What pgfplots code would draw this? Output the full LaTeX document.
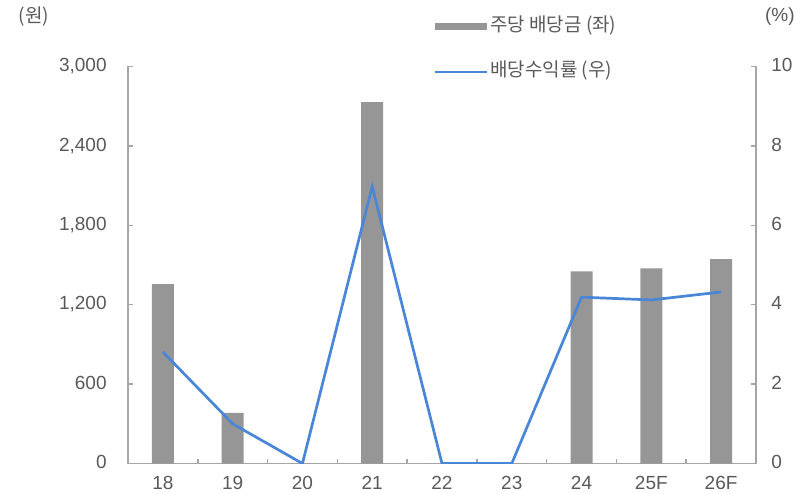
\documentclass[border=0pt]{standalone}
\usepackage{fontspec}
\setmainfont{Liberation Sans}
\newfontfamily\kr{Noto Sans CJK KR}
\usepackage{pgfplots}
\pgfplotsset{compat=1.18}

\definecolor{bargray}{RGB}{150,150,150}
\definecolor{lineblue}{RGB}{74,134,216}
\definecolor{axgray}{RGB}{166,166,166}
\definecolor{txtgray}{RGB}{89,89,89}

\pgfplotsset{
  base/.style={
    scale only axis, width=314pt, height=198.5pt,
    at={(64pt,14.75pt)}, anchor=south west,
    xmin=-0.5, xmax=8.5,
    axis line style={axgray, line width=0.75pt},
    tick style={axgray, line width=0.75pt},
    major tick length=2.25pt, minor tick length=2.25pt,
    tick align=inside,
    font=\fontsize{9.5}{11}\selectfont,
    /pgf/number format/assume math mode=true,
    every tick label/.append style={txtgray},
  }
}

\begin{document}
\begin{tikzpicture}
\path[use as bounding box] (0,0) rectangle (404pt,246.5pt);

% left axis: dividend per share (bars)
\begin{axis}[base,
  axis y line*=left, axis x line*=bottom,
  ymin=0, ymax=3000, ytick={0,600,...,3000},
  xtick={0,...,8}, xticklabels={18,19,20,21,22,23,24,25F,26F},
  minor xtick={0.5,1.5,...,7.5},
  major x tick style={draw=none},
  yticklabel style={/pgf/number format/1000 sep={,}, anchor=mid east, inner sep=0pt, xshift=-10.5pt},
  xticklabel style={anchor=center, inner sep=0pt, yshift=-9.75pt},
  ylabel={\kr (원)},
  ylabel style={rotate=-90, at={(axis description cs:-0.150,1.125)}, anchor=center, txtgray},
  legend style={draw=none, fill=none, at={(axis description cs:0.4857,1.0435)}, anchor=west,
    inner sep=0pt, row sep=13.75pt, column sep=1pt,
    nodes={inner sep=0pt, text height=7pt, text depth=2pt, txtgray}},
  legend cell align=left,
]
\addplot[ybar, bar width=11pt, fill=bargray, draw=none,
  legend image code/.code={\fill[bargray] (0pt,-1.75pt) rectangle (26pt,1.75pt);}]
  coordinates {(0,1355) (1,382) (2,0) (3,2730) (4,0) (5,0) (6,1452) (7,1475) (8,1545)};
\addlegendentry{\kr 주당 배당금 (좌)}
\addlegendimage{lineblue, line width=1.35pt,
  legend image code/.code={\draw[lineblue, line width=1.35pt] (0pt,0pt) -- (26pt,0pt);}}
\addlegendentry{\kr 배당수익률 (우)}
\end{axis}

% right axis: dividend yield (line)
\begin{axis}[base,
  axis y line*=right, axis x line=none,
  ymin=0, ymax=10, ytick={0,2,...,10},
  xtick=\empty,
  yticklabel style={anchor=mid west, inner sep=0pt, xshift=7.5pt},
  ylabel={(\%)},
  ylabel style={rotate=-90, at={(axis description cs:1.038,1.125)}, anchor=center, txtgray},
]
\addplot[lineblue, line width=1.35pt, mark=none]
  coordinates {(0,2.81) (1,1.0) (2,0) (3,6.98) (4,0) (5,0) (6,4.19) (7,4.12) (8,4.32)};
\end{axis}
\end{tikzpicture}
\end{document}
